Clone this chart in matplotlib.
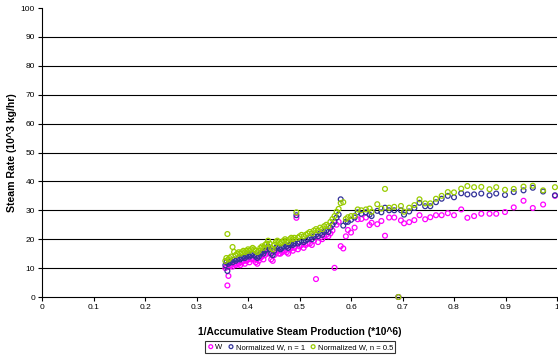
import matplotlib
matplotlib.use("Agg")
import matplotlib.pyplot as plt

plt.rcParams['font.family'] = ['Liberation Sans', 'DejaVu Sans']

# dense part of the curve (shared x for the three series)
dense_x = [0.356, 0.358, 0.360, 0.362, 0.364, 0.367, 0.370, 0.373, 0.376, 0.379,
           0.382, 0.385, 0.388, 0.391, 0.394, 0.397, 0.400, 0.403, 0.406, 0.409,
           0.412, 0.415, 0.418, 0.421, 0.424, 0.427, 0.430, 0.433, 0.436, 0.439,
           0.442, 0.445, 0.448, 0.451, 0.454, 0.457, 0.460, 0.463, 0.466, 0.469,
           0.472, 0.475, 0.478, 0.481, 0.484, 0.487, 0.490, 0.494, 0.497, 0.500,
           0.504, 0.508, 0.512, 0.516, 0.520, 0.524, 0.528, 0.532, 0.536, 0.540,
           0.544, 0.548, 0.552, 0.556, 0.560, 0.564, 0.568, 0.572, 0.576, 0.580]
dense_w = [10.0, 10.5, 4.0, 7.3, 10.5, 11.0, 10.5, 11.5, 11.0, 11.5,
           11.5, 11.0, 12.0, 12.5, 11.5, 12.5, 13.0, 12.0, 13.0, 13.5,
           13.0, 12.0, 11.5, 12.5, 13.5, 14.0, 13.0, 14.5, 15.0, 16.0,
           15.0, 13.0, 12.5, 14.5, 15.5, 16.0, 15.0, 15.0, 15.5, 16.0,
           16.0, 15.5, 15.0, 16.5, 17.0, 16.0, 17.0, 27.4, 16.5, 17.5,
           18.0, 17.0, 18.0, 18.5, 18.5, 18.0, 19.5, 6.2, 19.0, 20.5,
           20.0, 21.0, 21.5, 21.0, 22.0, 23.0, 10.1, 25.0, 26.0, 17.6]
dense_n1 = [11.0, 12.0, 9.0, 11.5, 12.0, 12.5, 12.0, 13.0, 12.5, 13.0,
            13.5, 13.0, 13.5, 14.0, 13.5, 14.0, 14.5, 14.0, 14.5, 15.0,
            14.5, 14.0, 13.5, 14.0, 15.0, 15.5, 15.0, 16.0, 16.5, 17.5,
            16.5, 15.0, 14.5, 16.0, 17.0, 17.5, 17.0, 16.5, 17.0, 17.5,
            18.0, 17.5, 17.0, 18.0, 18.5, 18.0, 18.5, 28.3, 18.5, 19.0,
            19.5, 19.0, 19.5, 20.0, 20.5, 20.0, 21.0, 21.5, 21.0, 22.0,
            21.5, 22.5, 23.0, 22.5, 24.0, 25.0, 26.0, 27.5, 28.5, 33.8]
dense_n05 = [12.5, 13.5, 21.8, 13.0, 13.5, 14.0, 17.3, 15.6, 14.5, 15.0,
             15.5, 15.0, 15.5, 16.0, 15.5, 16.0, 16.5, 16.0, 16.5, 17.0,
             16.5, 16.0, 15.5, 16.0, 17.0, 17.5, 17.0, 18.0, 18.5, 19.5,
             18.5, 17.0, 16.5, 18.0, 19.0, 19.5, 19.0, 18.5, 19.0, 19.5,
             20.0, 19.5, 19.0, 20.0, 20.5, 20.0, 20.5, 29.3, 20.5, 21.0,
             21.5, 21.0, 21.5, 22.0, 22.5, 22.0, 23.0, 23.5, 23.0, 24.0,
             23.5, 24.5, 25.0, 24.5, 26.0, 27.0, 28.0, 29.5, 30.5, 32.5]

# sparse part
sparse_x = [0.585, 0.590, 0.594, 0.600, 0.607, 0.613, 0.620, 0.629, 0.636, 0.640,
            0.651, 0.659, 0.666, 0.674, 0.684, 0.692, 0.697, 0.703, 0.713, 0.723,
            0.733, 0.744, 0.754, 0.765, 0.776, 0.788, 0.800, 0.814, 0.826, 0.839,
            0.853, 0.869, 0.882, 0.899, 0.916, 0.935, 0.953, 0.973, 0.996]
sparse_w = [16.8, 21.0, 23.2, 22.3, 24.0, 26.9, 27.0, 27.5, 24.9, 25.7,
            25.2, 26.3, 21.2, 27.5, 27.5, 0.0, 26.5, 25.5, 25.9, 26.6,
            28.3, 26.9, 27.6, 28.3, 28.3, 29.0, 28.3, 30.3, 27.4, 28.0,
            28.8, 28.8, 28.8, 29.4, 31.0, 33.3, 30.8, 32.0, 35.0]
sparse_n1 = [24.7, 26.0, 26.0, 26.7, 27.5, 29.3, 28.8, 29.3, 28.5, 28.0,
             29.8, 29.3, 30.9, 30.0, 30.0, 0.0, 30.0, 28.5, 29.6, 30.8,
             32.6, 31.4, 31.4, 32.8, 34.0, 35.0, 34.5, 35.9, 35.5, 35.5,
             35.8, 35.2, 35.8, 35.3, 36.3, 36.9, 37.8, 36.5, 35.2]
sparse_n05 = [32.8, 27.0, 27.6, 28.0, 28.1, 30.3, 30.0, 30.3, 30.6, 29.5,
              32.1, 30.6, 37.4, 30.9, 31.2, 0.0, 31.5, 29.5, 30.9, 31.8,
              33.8, 32.4, 32.4, 34.0, 35.0, 36.3, 36.2, 37.5, 38.4, 38.0,
              38.1, 37.3, 38.0, 37.1, 37.4, 38.2, 38.5, 36.9, 38.0]

series = [
    ("W", dense_w + sparse_w, "#ff00ff"),
    ("Normalized W, n = 1", dense_n1 + sparse_n1, "#333399"),
    ("Normalized W, n = 0.5", dense_n05 + sparse_n05, "#99cc00"),
]
x_all = dense_x + sparse_x

fig = plt.figure(figsize=(5.58, 3.58), dpi=100)
ax = fig.add_axes([42 / 558, 61 / 358, 515 / 558, 289 / 358])

for label, y, col in series:
    ax.scatter(x_all, y, s=12, facecolors="none", edgecolors=col,
               linewidths=0.9, label=label, clip_on=False, zorder=3)

ax.set_xlim(0, 1)
ax.set_ylim(0, 100)
ax.set_xticks([i / 10 for i in range(11)])
ax.set_xticklabels(["0", "0.1", "0.2", "0.3", "0.4", "0.5", "0.6", "0.7", "0.8", "0.9", "1"])
ax.set_yticks(range(0, 101, 10))
ax.tick_params(labelsize=6, length=3, width=0.8, direction="out", pad=2)
for yv in range(10, 100, 10):
    ax.axhline(yv, color="black", lw=0.8, zorder=1)
ax.spines["top"].set_visible(False)
ax.spines["right"].set_visible(False)
ax.spines["left"].set_linewidth(0.8)
ax.spines["bottom"].set_linewidth(0.8)

ax.set_ylabel("Steam Rate (10^3 kg/hr)", fontsize=7.6, fontweight="bold")
ax.yaxis.set_label_coords(-0.048, 0.5)
ax.set_xlabel("1/Accumulative Steam Production (*10^6)", fontsize=7.4, fontweight="bold")
ax.xaxis.set_label_coords(0.5, -0.104)

leg = fig.legend(loc="center", bbox_to_anchor=(300 / 558, 11 / 358), ncol=3,
                 fontsize=5.5, frameon=True, fancybox=False, borderpad=0.3,
                 handletextpad=0.1, columnspacing=0.6, handlelength=1.0,
                 markerscale=0.8, borderaxespad=0)
leg.get_frame().set_edgecolor("black")
leg.get_frame().set_linewidth(0.8)

fig.savefig("out.png", dpi=100)
